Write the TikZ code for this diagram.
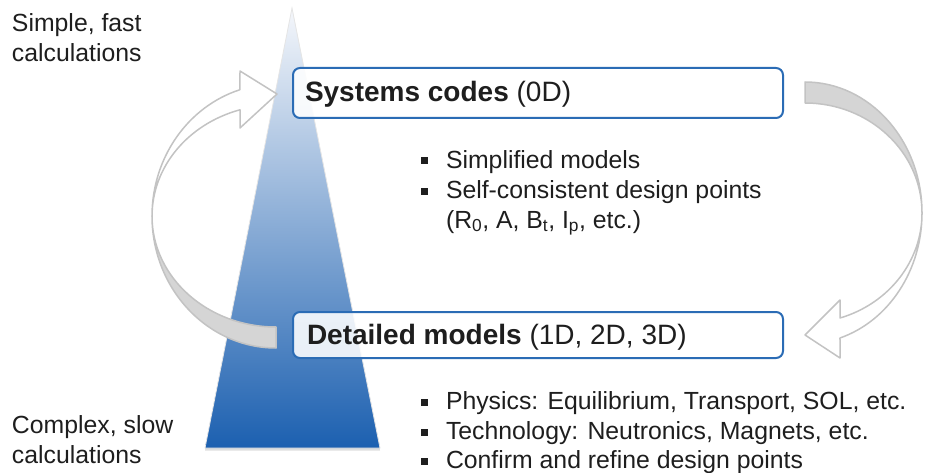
\documentclass[tikz,border=0pt]{standalone}
\usepackage{fontspec}
\setmainfont{Liberation Sans}
\usetikzlibrary{shadows}

\definecolor{pyrtop}{HTML}{F5F7FB}
\definecolor{pyrbot}{HTML}{1C60B0}
\definecolor{boxblue}{HTML}{2B6CB5}
\definecolor{arrowedge}{HTML}{C3C3C3}
\definecolor{arrowback}{HTML}{D5D5D5}
\definecolor{ink}{HTML}{1E1E1E}

\begin{document}
\begin{tikzpicture}[x=1pt,y=-1pt,
  every node/.style={inner sep=0pt, outer sep=0pt},
  sidetext/.style={font=\fontsize{24.8}{30}\selectfont, text=ink, anchor=base west},
  bodytext/.style={font=\fontsize{24.8}{30}\selectfont, text=ink, anchor=base west},
  headtext/.style={font=\fontsize{28}{34}\selectfont, text=ink, anchor=base west},
  bulletmark/.style={rectangle, fill=ink, minimum size=7pt},
  levelbox/.style={rectangle, rounded corners=7pt, draw=boxblue, line width=2pt,
    fill=white, fill opacity=0.88, minimum width=490pt},
  pyramid/.style={top color=pyrtop, bottom color=pyrbot, draw=black!10, line width=0.8pt,
    drop shadow={shadow xshift=0pt, shadow yshift=-2.5pt, opacity=0.25}},
  backface/.style={fill=arrowback, draw=arrowedge, line width=1.5pt, line join=round},
  frontface/.style={fill=white, draw=arrowedge, line width=1.5pt, line join=round},
]
\useasboundingbox (0,0) rectangle (925,473);

% fidelity pyramid
\path[pyramid] (292,8) -- (380,448) -- (205,448) -- cycle;

% upward iteration arrow (left): back side, then front side with head
\path[backface] (276,348)
  arc[start angle=90, end angle=180, x radius=124, y radius=132]
  arc[start angle=180, end angle=90, x radius=124, y radius=111] -- cycle;
\path[frontface] (152,216)
  arc[start angle=180, end angle=253.1, x radius=124, y radius=132]
  -- (240,71) -- (277,94) -- (240,128) -- (240,109.8)
  arc[start angle=253.1, end angle=180, x radius=124, y radius=111] -- cycle;

% downward iteration arrow (right)
\path[backface] (805,82)
  arc[start angle=-90, end angle=0, x radius=117, y radius=131]
  arc[start angle=0, end angle=-90, x radius=117, y radius=110] -- cycle;
\path[frontface] (922,213)
  arc[start angle=0, end angle=72.6, x radius=117, y radius=131]
  -- (840,358) -- (805,335) -- (840,300) -- (840,318)
  arc[start angle=72.6, end angle=0, x radius=117, y radius=110] -- cycle;

% level boxes
\node[levelbox, minimum height=50pt] (sys) at (538,93) {};
\node[levelbox, minimum height=46pt] (det) at (538,335) {};
\node[headtext] (systitle) at (305,102) {\bfseries Systems codes\mdseries{} (0D)};
\node[headtext] (dettitle) at (307,344) {\bfseries Detailed models\mdseries{} (1D, 2D, 3D)};

% side labels
\node[sidetext] (fast1) at (12,32) {Simple, fast};
\node[sidetext] (fast2) at (12,62) {calculations};
\node[sidetext] (slow1) at (12,433) {Complex, slow};
\node[sidetext] (slow2) at (12,463) {calculations};

% systems code bullets
\node[bulletmark] (sb1) at (424,161) {};
\node[bodytext] (st1) at (446,168) {Simplified models};
\node[bulletmark] (sb2) at (424,191) {};
\node[bodytext] (st2) at (446,198) {Self-consistent design points};
\node[bodytext] (st3) at (446,228) {(R\textsubscript{0}, A, B\textsubscript{t}, I\textsubscript{p}, etc.)};

% detailed model bullets
\node[bulletmark] (db1) at (424,402) {};
\node[bodytext] (dt1) at (446,409) {Physics: Equilibrium, Transport, SOL, etc.};
\node[bulletmark] (db2) at (424,432) {};
\node[bodytext] (dt2) at (446,439) {Technology: Neutronics, Magnets, etc.};
\node[bulletmark] (db3) at (424,461) {};
\node[bodytext] (dt3) at (446,468) {Confirm and refine design points};
\end{tikzpicture}
\end{document}
